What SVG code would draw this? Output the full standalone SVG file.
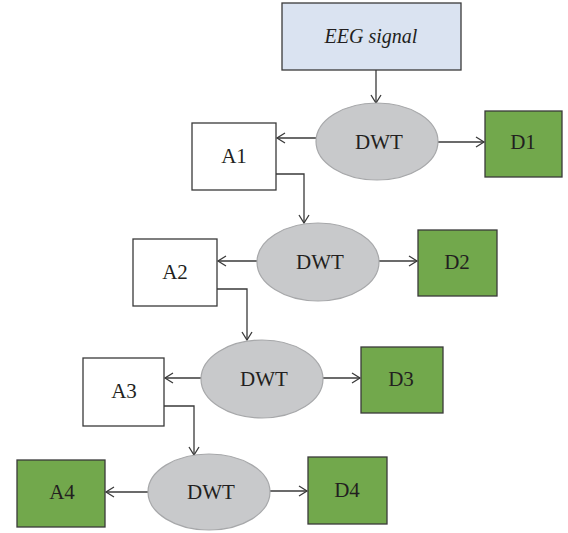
<svg xmlns="http://www.w3.org/2000/svg" width="568" height="533" viewBox="0 0 568 533">
<style>
.t{font-family:"Liberation Serif","Times New Roman",serif;font-size:21px;fill:#231f20;text-anchor:middle}
.it{font-style:italic;font-size:20px}
.box{fill:#ffffff;stroke:#3a3a3a;stroke-width:1.3}
.src{fill:#dae3f1;stroke:#3a3a3a;stroke-width:1.3}
.grn{fill:#72a84c;stroke:#3a3a3a;stroke-width:1.3}
.dwt{fill:#c8c9cb;stroke:#a7a8aa;stroke-width:1.2}
.c{fill:none;stroke:#3a3a3a;stroke-width:1.3;marker-end:url(#ah)}
</style>
<defs>
<marker id="ah" markerWidth="12" markerHeight="12" viewBox="0 0 12 12" refX="10" refY="6" orient="auto" markerUnits="userSpaceOnUse">
<path d="M2,1 L10,6 L2,11" fill="none" stroke="#3a3a3a" stroke-width="1.3"/>
</marker>
</defs>
<g id="connectors">
<path class="c" d="M376,70 V103"/>
<path class="c" d="M316,138 H277"/>
<path class="c" d="M438,142 H484"/>
<path class="c" d="M276,174 H304 V223"/>
<path class="c" d="M257,261 H218"/>
<path class="c" d="M379,261 H417"/>
<path class="c" d="M217,289 H247 V340"/>
<path class="c" d="M201,378 H165"/>
<path class="c" d="M323,378 H360"/>
<path class="c" d="M164,406 H194 V455"/>
<path class="c" d="M148,492 H106"/>
<path class="c" d="M270,491 H307"/>
</g>
<g id="eeg"><rect class="src" x="282" y="3" width="179" height="67"/><text class="t it" x="371" y="43">EEG signal</text></g>
<g id="dwt1"><ellipse class="dwt" cx="377" cy="141.5" rx="61" ry="38.5"/><text class="t" x="379" y="149">DWT</text></g>
<g id="a1"><rect class="box" x="192" y="123" width="84" height="67"/><text class="t" x="234" y="163">A1</text></g>
<g id="d1"><rect class="grn" x="485" y="111" width="77" height="66"/><text class="t" x="523" y="149">D1</text></g>
<g id="dwt2"><ellipse class="dwt" cx="318" cy="262" rx="61" ry="39"/><text class="t" x="320" y="269">DWT</text></g>
<g id="a2"><rect class="box" x="133" y="239" width="84" height="67"/><text class="t" x="175" y="279">A2</text></g>
<g id="d2"><rect class="grn" x="418" y="230" width="79" height="66"/><text class="t" x="457" y="269">D2</text></g>
<g id="dwt3"><ellipse class="dwt" cx="262" cy="379" rx="61" ry="39"/><text class="t" x="264" y="386">DWT</text></g>
<g id="a3"><rect class="box" x="83" y="358" width="81" height="68"/><text class="t" x="124" y="398">A3</text></g>
<g id="d3"><rect class="grn" x="361" y="347" width="82" height="66"/><text class="t" x="401" y="386">D3</text></g>
<g id="dwt4"><ellipse class="dwt" cx="209" cy="492" rx="61" ry="38"/><text class="t" x="211" y="499">DWT</text></g>
<g id="a4"><rect class="grn" x="17" y="460" width="88" height="67"/><text class="t" x="62" y="499">A4</text></g>
<g id="d4"><rect class="grn" x="308" y="457" width="79" height="67"/><text class="t" x="347" y="497">D4</text></g>
</svg>
